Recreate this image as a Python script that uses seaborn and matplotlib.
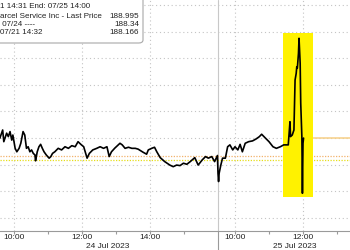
import matplotlib
matplotlib.use("Agg")
import matplotlib.pyplot as plt
import matplotlib.transforms as mtransforms
from matplotlib.patches import FancyBboxPatch, Rectangle
import seaborn as sns
import pandas as pd

# ---------------- data ----------------
day24_times = ["09:35","09:40","09:42","09:47","09:50","09:53","09:56","09:58",
               "10:02","10:05","10:09","10:12","10:16","10:19","10:22","10:25","10:28","10:31",
               "10:34","10:37","10:38","10:41","10:44","10:47","10:50","10:53","10:57",
               "11:02","11:05","11:08","11:12","11:18","11:24","11:30","11:36","11:42","11:48","11:53","11:59",
               "12:03","12:09","12:13","12:19","12:26","12:32","12:38","12:44","12:48","12:52","12:58",
               "13:07","13:11","13:16","13:22","13:28","13:34","13:39","13:48","13:54","13:57",
               "14:03","14:08","14:12","14:18","14:26","14:35","14:41","14:47","14:53","14:59",
               "15:05","15:11","15:19","15:25","15:32","15:38","15:43","15:49","15:54","15:59"]
day24_prices = [188.99,189.30,188.86,189.18,189.05,189.24,188.92,189.11,
                188.61,188.48,188.61,188.80,189.24,189.11,188.61,188.67,188.48,188.55,
                188.42,188.36,188.14,188.48,188.67,188.76,188.61,188.48,188.36,
                188.24,188.30,188.42,188.48,188.61,188.55,188.67,188.61,188.71,188.67,188.86,188.74,
                188.67,188.24,188.42,188.55,188.61,188.67,188.61,188.67,188.30,188.48,188.62,
                188.80,188.74,188.61,188.65,188.61,188.61,188.58,188.46,188.39,188.55,
                188.61,188.65,188.48,188.26,188.11,187.98,187.92,187.98,187.96,188.05,
                188.01,188.11,188.26,187.98,188.17,188.30,188.24,188.30,188.11,188.34]

day25_times = ["09:30","09:31","09:32","09:35","09:38","09:43","09:47","09:51","09:56",
               "10:00","10:05","10:09","10:13","10:18","10:24","10:31","10:37","10:43","10:47","10:53",
               "11:00","11:07","11:13","11:20","11:26","11:34","11:37","11:38","11:41","11:44",
               "11:46","11:48","11:49","11:50","11:52","11:53","11:55","11:56","11:58","11:59",
               "12:00","12:01"]
day25_prices = [187.67,187.36,187.67,187.98,188.24,188.24,188.67,188.74,188.55,
                188.67,188.55,188.76,188.48,188.80,188.86,188.89,188.96,189.05,189.14,189.01,
                188.86,188.67,188.61,188.67,188.74,188.74,189.61,189.05,189.11,189.30,
                191.18,191.43,191.68,191.62,192.18,192.75,191.81,190.30,189.05,186.92,
                188.80,188.995]

last_price = 188.995
prev_close = 188.34
start_price = 188.166

highlight_start = "11:25"   # 25 Jul
highlight_end = "12:18"
highlight_low = 186.78
highlight_high = 192.95

tick_times = [(0, "10:00"), (0, "12:00"), (0, "14:00"), (1, "10:00"), (1, "12:00")]
tick_labels = ["10:00", "12:00", "14:00", "10:00", "12:00"]
minor_times = [(0, "11:00"), (0, "13:00"), (0, "15:00"), (1, "11:00"), (1, "13:00")]
date_labels = ["24 Jul 2023", "25 Jul 2023"]
price_grid = [186, 187, 188, 189, 190, 191, 192, 193, 194]

legend_lines = ["1 14:31 End: 07/25 14:00",
                "arcel Service Inc - Last Price",
                " 07/24 ----",
                "07/21 14:32"]
legend_values = ["", "188.995", "188.34", "188.166"]

# ---------------- trading-time axis ----------------
SESSION = 6.5  # hours 09:30-16:00


def tpos(day, hhmm):
    h, m = hhmm.split(":")
    return day * SESSION + (int(h) + int(m) / 60.0) - 9.5


df = pd.DataFrame({
    "t": [tpos(0, s) for s in day24_times] + [tpos(1, s) for s in day25_times],
    "price": day24_prices + day25_prices,
})

sns.set_theme(style="white")
plt.rcParams["font.family"] = ["Liberation Sans", "DejaVu Sans"]

W, H = 350, 250
fig = plt.figure(figsize=(3.5, 2.5), dpi=100)
ax = fig.add_axes([0, 19 / H, 1, 231 / H])

px_per_hour = 34.0
x0 = 3.0 / px_per_hour
ax.set_xlim(x0, x0 + W / px_per_hour)
ax.set_ylim(185.50, 194.19)

# grid
for g in price_grid:
    ax.axhline(g, color="#c4c4c4", lw=0.8, ls=(0, (1, 2.5)), zorder=0)
for d, s in tick_times:
    ax.axvline(tpos(d, s), color="#c4c4c4", lw=0.8, ls=(0, (1, 2.5)), zorder=0)
sep = tpos(1, "09:30")
ax.axvline(sep, color="#c8c8c8", lw=0.8, zorder=0)

# reference lines
ax.axhline(prev_close, color="#f2b36b", lw=0.9, ls=(0, (1, 1.2)), zorder=1)
ax.axhline(start_price, color="#e6df1a", lw=0.9, ls=(0, (1, 1.2)), zorder=1)
ax.plot([df["t"].iloc[-1], ax.get_xlim()[1]], [last_price, last_price],
        color="#f7cf86", lw=1.1, zorder=1)

# highlight
hs, he = tpos(1, highlight_start), tpos(1, highlight_end)
ax.add_patch(Rectangle((hs, highlight_low), he - hs, highlight_high - highlight_low,
                       facecolor="#fff200", edgecolor="none", zorder=2))

sns.lineplot(data=df, x="t", y="price", ax=ax, color="black", lw=1.2,
             estimator=None, sort=False, zorder=3, legend=False)

# axes styling
for side in ["top", "right", "left"]:
    ax.spines[side].set_visible(False)
ax.spines["bottom"].set_color("#9a9a9a")
ax.spines["bottom"].set_linewidth(0.8)
ax.set_yticks([])
ax.set_xticks([tpos(d, s) for d, s in tick_times])
ax.set_xticklabels(tick_labels)
ax.set_xticks([tpos(d, s) for d, s in minor_times], minor=True)
ax.tick_params(axis="x", which="both", bottom=True, length=2, width=0.8,
               color="#9a9a9a", pad=0.3, labelsize=6.0, labelcolor="#222222")
ax.set_xlabel("")
ax.set_ylabel("")

trans = mtransforms.blended_transform_factory(ax.transData, ax.transAxes)
ax.plot([sep, sep], [0, -0.1], transform=trans, clip_on=False, color="#9a9a9a", lw=0.8)
for cx, lab in zip([SESSION / 2, SESSION + 2.25], date_labels):
    ax.text(cx, -0.066, lab, transform=trans, ha="center", va="center",
            fontsize=6.0, color="#222222")

# legend box (cropped at the figure's top-left)
box = FancyBboxPatch((-10 / W, 1 - 43 / H), (143 + 10) / W, (43 + 10) / H,
                     boxstyle="round,pad=0,rounding_size=0.012",
                     transform=fig.transFigure, facecolor="white",
                     edgecolor="#a8a8a8", lw=0.8, zorder=5)
fig.patches.append(box)
ys = [7, 16, 24.5, 33]
for y, txt, val in zip(ys, legend_lines, legend_values):
    fig.text(0 / W, 1 - y / H, txt, ha="left", va="center", fontsize=5.8,
             color="#222222", zorder=6)
    if val:
        fig.text(139 / W, 1 - y / H, val, ha="right", va="center", fontsize=5.9,
                 color="#222222", zorder=6)

fig.savefig("out.png", dpi=100)
